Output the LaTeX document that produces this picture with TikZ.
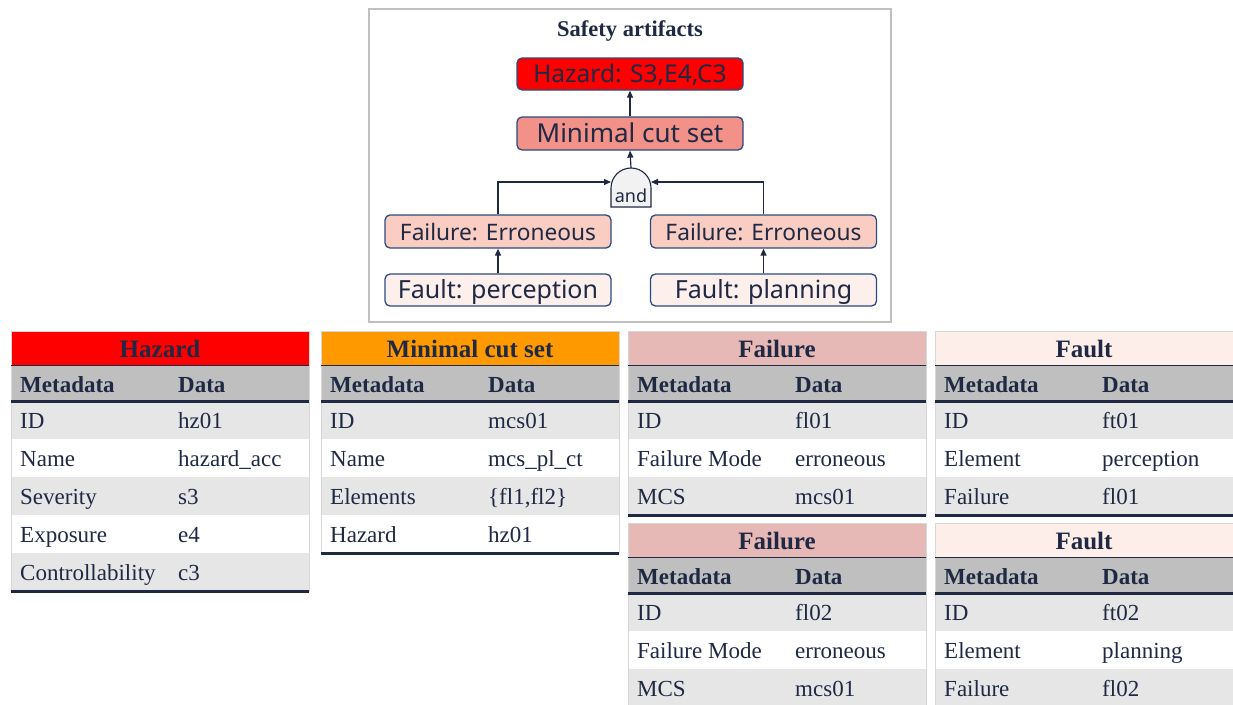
\documentclass[tikz,border=0pt]{standalone}
\usepackage{fontspec}
\setmainfont{Liberation Serif}
\newfontfamily\tabfont{Liberation Serif}
\newfontfamily\diagfont{Noto Sans}
\usetikzlibrary{arrows.meta}

\definecolor{ink}{RGB}{31,41,68}
\definecolor{edge}{RGB}{44,74,130}
\definecolor{hzred}{RGB}{255,0,0}
\definecolor{mcsorange}{RGB}{255,153,0}
\definecolor{mcssalmon}{RGB}{241,145,136}
\definecolor{flpink}{RGB}{250,205,195}
\definecolor{ftpink}{RGB}{253,239,236}
\definecolor{flhead}{RGB}{230,185,182}
\definecolor{fthead}{RGB}{253,238,234}
\definecolor{hdrgray}{RGB}{191,191,191}
\definecolor{rowgray}{RGB}{231,230,230}
\definecolor{gatefill}{RGB}{242,242,242}
\definecolor{framegray}{RGB}{192,192,192}
\definecolor{outline}{RGB}{215,215,215}

% one metadata table: name, left, top, title, title fill, rows, row count
\newcommand\metatable[7]{%
  \begin{scope}[shift={(#2,#3)}]
    \fill[#5] (0,0) rectangle (298,34);
    \node[ttl, font={\tabfont\bfseries\fontsize{25}{29}\selectfont}] (#1-title) at (149,26) {#4};
    \fill[hdrgray] (0,34) rectangle (298,70);
    \node[cell, font={\tabfont\bfseries\fontsize{23}{27}\selectfont}] (#1-hk) at (9,61) {Metadata};
    \node[cell, font={\tabfont\bfseries\fontsize{23}{27}\selectfont}] (#1-hv) at (167,61) {Data};
    \foreach \k/\v [count=\i] in {#6} {
      \pgfmathsetmacro\rt{70+38*(\i-1)}
      \ifodd\i\relax \fill[rowgray] (0,\rt) rectangle (298,\rt+38);\fi
      \node[cell, font={\tabfont\fontsize{23}{27}\selectfont}] (#1-k\i) at (9,\rt+27) {\k};
      \node[cell, font={\tabfont\fontsize{23}{27}\selectfont}] (#1-v\i) at (167,\rt+27) {\v};
    }
    \draw[outline, line width=0.8] (0,0) rectangle (298,{70+38*#7});
    \draw[ink, line width=1] (0,34) -- (298,34);
    \draw[ink, line width=3] (0,70) -- (298,70);
    \draw[ink, line width=3] (0,{70+38*#7}) -- (298,{70+38*#7});
  \end{scope}}

\begin{document}
\begin{tikzpicture}[x=1pt, y=-1pt,
  box/.style={draw=edge, line width=1.3, rounded corners=5, minimum width=226,
    minimum height=32, inner sep=0, text=ink, text height=17pt, text depth=0pt},
  hztxt/.style={font=\diagfont\fontsize{24.5}{28}\selectfont},
  mcstxt/.style={font=\diagfont\fontsize{26}{30}\selectfont},
  fltxt/.style={font=\diagfont\fontsize{22.7}{26}\selectfont},
  fttxt/.style={font=\diagfont\fontsize{25}{29}\selectfont},
  conn/.style={draw=ink, line width=1.2, -{Triangle[length=7pt,width=6pt]}},
  ttl/.style={anchor=base, inner sep=0, text=ink},
  cell/.style={anchor=base west, inner sep=0, text=ink}]

\useasboundingbox (0,0) rectangle (1233,704);
\fill[white] (0,0) rectangle (1233,704);

% fault-tree panel
\draw[framegray, line width=2.5, fill=white] (369,9) rectangle (891,322);
\node[ttl, font={\tabfont\bfseries\fontsize{22.5}{26}\selectfont}] (panel) at (630,36) {Safety artifacts};

\node[box, hztxt, fill=hzred, minimum height=32] (hz) at (630,74) {Hazard: S3,E4,C3};
\node[box, mcstxt, fill=mcssalmon, minimum height=33] (mcs) at (630,133.5) {Minimal cut set};
\node[box, fltxt, fill=flpink, minimum height=33] (fl1) at (498,231.5) {Failure: Erroneous};
\node[box, fltxt, fill=flpink, minimum height=33] (fl2) at (763.5,231.5) {Failure: Erroneous};
\node[box, fttxt, fill=ftpink] (ft1) at (498,290) {Fault: perception};
\node[box, fttxt, fill=ftpink] (ft2) at (763.5,290) {Fault: planning};

% and gate
\draw[ink, line width=1.1, fill=gatefill] (611,207) -- (611,188)
  arc[start angle=180, end angle=360, radius=20] -- (651,207) -- cycle;
\node[inner sep=0, text=ink, font=\diagfont\fontsize{18}{22}\selectfont, anchor=base] (andg) at (631,202) {and};
\coordinate (gL) at (611,182);
\coordinate (gR) at (651,182);
\coordinate (gT) at (631,168);

\draw[conn] (mcs.north) -- (hz.south);
\draw[conn] (gT) -- (mcs.south);
\draw[conn] (fl1.north) |- (gL);
\draw[conn] (fl2.north) |- (gR);
\draw[conn] (ft1.north) -- (fl1.south);
\draw[conn] (ft2.north) -- (fl2.south);

% metadata tables
\metatable{thz}{11}{331}{Hazard}{hzred}%
  {ID/hz01, Name/hazard\_acc, Severity/s3, Exposure/e4, Controllability/c3}{5}
\metatable{tmcs}{321}{331}{Minimal cut set}{mcsorange}%
  {ID/mcs01, Name/mcs\_pl\_ct, Elements/{\{fl1,fl2\}}, Hazard/hz01}{4}
\metatable{tfl1}{628}{331}{Failure}{flhead}%
  {ID/fl01, Failure Mode/erroneous, MCS/mcs01}{3}
\metatable{tft1}{935}{331}{Fault}{fthead}%
  {ID/ft01, Element/perception, Failure/fl01}{3}
\metatable{tfl2}{628}{523}{Failure}{flhead}%
  {ID/fl02, Failure Mode/erroneous, MCS/mcs01}{3}
\metatable{tft2}{935}{523}{Fault}{fthead}%
  {ID/ft02, Element/planning, Failure/fl02}{3}
\end{tikzpicture}
\end{document}
